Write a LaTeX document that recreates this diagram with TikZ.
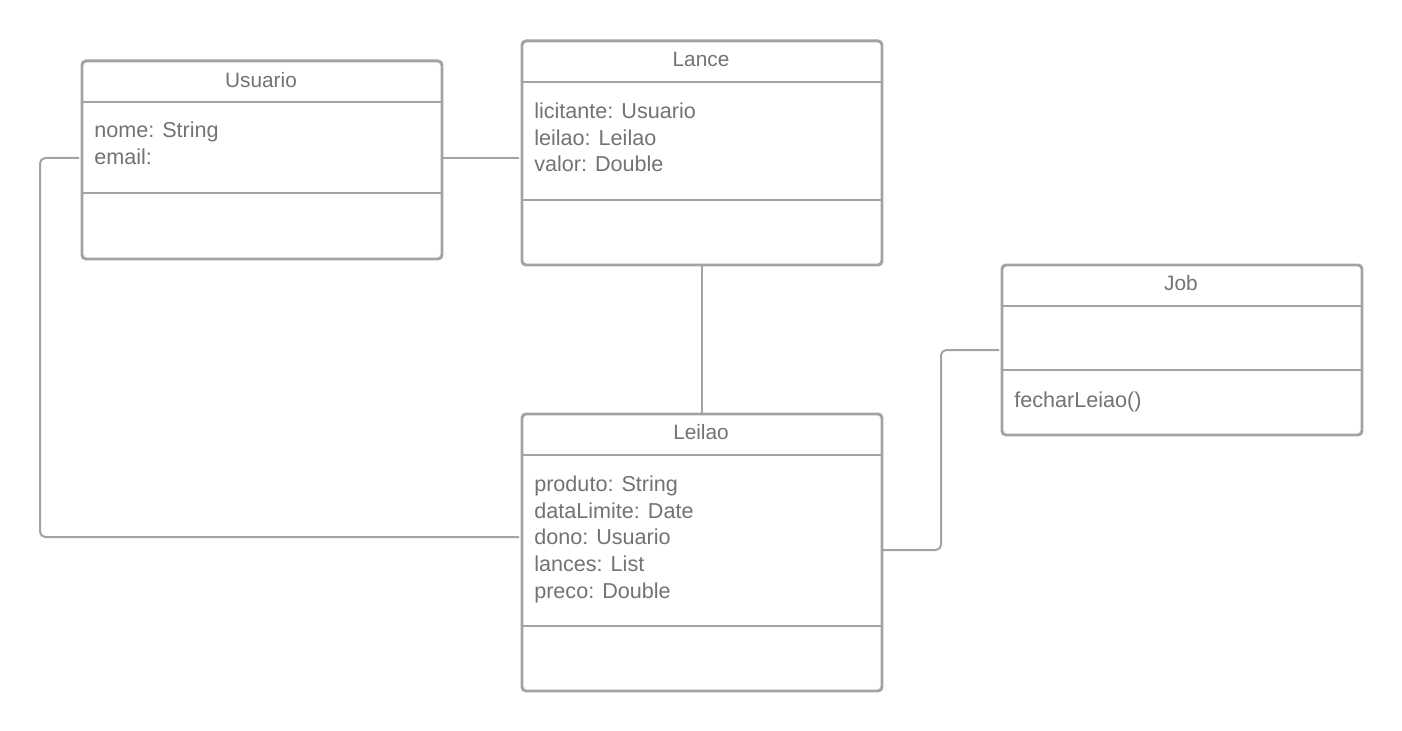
\documentclass[tikz,border=0pt]{standalone}
\usepackage{fontspec}
\setmainfont{Liberation Sans}
\definecolor{boxline}{HTML}{A3A3A3}
\definecolor{txt}{HTML}{737373}
\begin{document}
\begin{tikzpicture}[x=0.75pt,y=-0.75pt,
  cls/.style={draw=boxline,line width=2.2pt,rounded corners=3pt,fill=white,anchor=north west,inner sep=0pt},
  title/.style={text=txt,font=\fontsize{15.6}{18}\selectfont,anchor=center,inner sep=0pt},
  attrs/.style={text=txt,font=\fontsize{16.2}{19.9}\selectfont,anchor=north west,align=left,inner sep=0pt},
  div/.style={draw=boxline,line width=2.2pt},
  conn/.style={draw=boxline,line width=1.5pt,rounded corners=4pt}]
\useasboundingbox (0,0) rectangle (1402,731);
% classes
\node[cls,minimum width=360*0.75pt,minimum height=198*0.75pt] (usuario) at (80.5,59.5) {};
\node[cls,minimum width=360*0.75pt,minimum height=224*0.75pt] (lance) at (520.5,39.5) {};
\node[cls,minimum width=360*0.75pt,minimum height=170*0.75pt] (job) at (1000.5,263.5) {};
\node[cls,minimum width=360*0.75pt,minimum height=277*0.75pt] (leilao) at (520.5,412.5) {};
% dividers
\draw[div] (80.5,102) -- (440.5,102);
\draw[div] (80.5,193) -- (440.5,193);
\draw[div] (520.5,82) -- (880.5,82);
\draw[div] (520.5,200) -- (880.5,200);
\draw[div] (1000.5,306) -- (1360.5,306);
\draw[div] (1000.5,370) -- (1360.5,370);
\draw[div] (520.5,455) -- (880.5,455);
\draw[div] (520.5,626) -- (880.5,626);
% titles
\node[title] (tU) at (261,80) {Usuario};
\node[title] (tL) at (701,59) {Lance};
\node[title] (tJ) at (1181,283) {Job};
\node[title] (tLe) at (701,432) {Leilao};
% attributes
\node[attrs] (aU) at (94,122) {nome: String\\email:};
\node[attrs] (aL) at (534,103) {licitante: Usuario\\leilao: Leilao\\valor: Double};
\node[attrs] (mJ) at (1014,392) {fecharLeiao()};
\node[attrs] (aLe) at (534,476) {produto: String\\dataLimite: Date\\dono: Usuario\\lances: List\\preco: Double};
% connectors
\coordinate (uR) at (443,158);
\coordinate (lL) at (519,158);
\draw[conn] (uR) -- (lL);
\draw[conn] (lance.south) -- (leilao.north);
\coordinate (uL) at (79,158);
\coordinate (leL) at (519,537);
\draw[conn] (uL) -- (40,158) -- (40,537) -- (leL);
\coordinate (leR) at (883,550);
\coordinate (jL) at (999,350);
\draw[conn] (leR) -- (941,550) -- (941,350) -- (jL);
\end{tikzpicture}
\end{document}
